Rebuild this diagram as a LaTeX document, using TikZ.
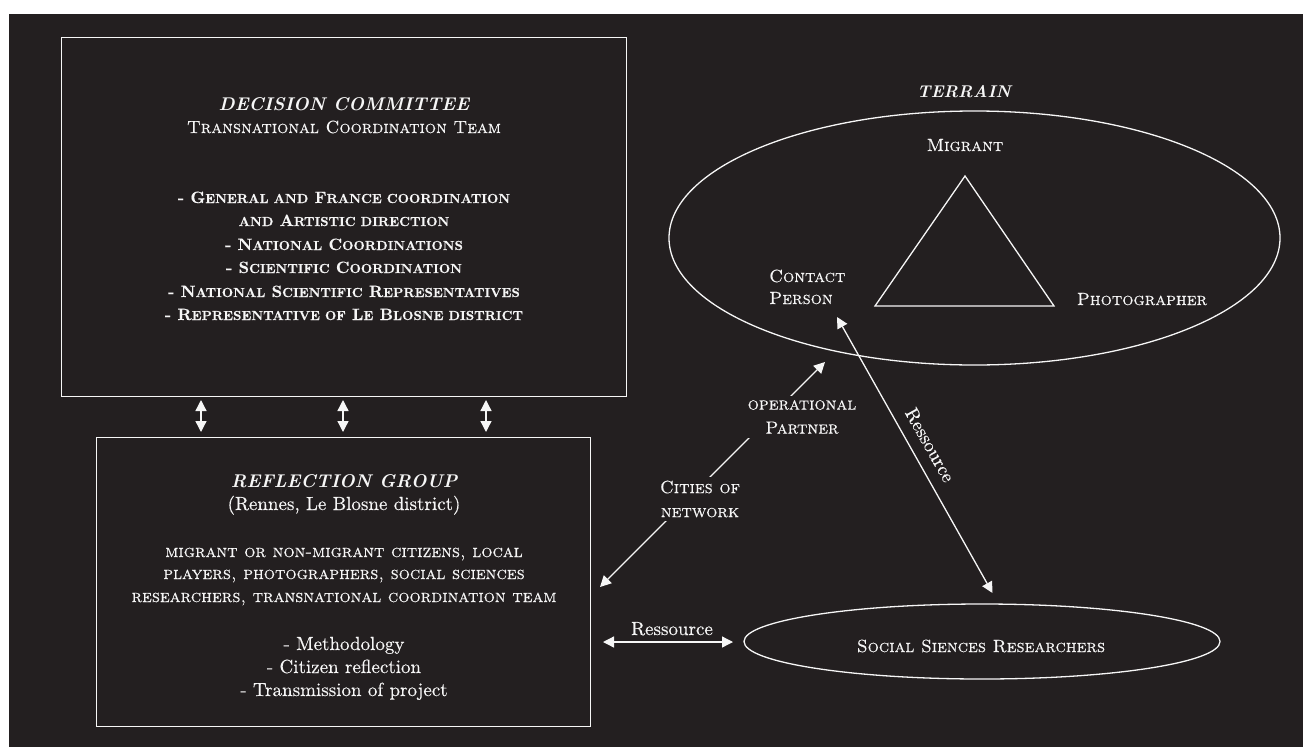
\documentclass[tikz,border=0pt]{standalone}
\usepackage{fontspec}
\newfontfamily\lmreg{lmroman10-regular.otf}[FakeBold=0.35]
\newfontfamily\lmsc{lmromancaps10-regular.otf}[FakeBold=0.35]
\newfontfamily\lmbold{lmroman10-bold.otf}[FakeBold=0.3]
\usetikzlibrary{shapes.geometric,arrows.meta}
\definecolor{bg}{HTML}{231F20}
\definecolor{fg}{HTML}{F6F6F6}
\newcommand\fsc[1]{{\fontsize{13.1}{16}\selectfont #1}}
\begin{document}
\begin{tikzpicture}[x=1pt,y=-1pt,
  line/.style={draw=fg, line width=1.3pt},
  >={Triangle[length=11pt,width=11pt]},
  txt/.style={text=fg, inner sep=0pt, anchor=base},
  ttl/.style={txt, font=\fontsize{18.4}{23}\selectfont\bfseries\itshape},
  sct/.style={txt, font=\fontsize{17.6}{23}\selectfont\lmsc},
  reg/.style={txt, font=\fontsize{19}{23}\selectfont\lmreg},
  bsc/.style={txt, font=\fontsize{16.4}{23}\selectfont\lmbold},
  lbl/.style={text=fg, fill=bg, inner sep=4pt, align=center, font=\fontsize{17.6}{24}\selectfont\lmsc},
  boxx/.style={line, inner sep=0pt, anchor=north west},
  ell/.style={line, ellipse, inner sep=0pt}]
\useasboundingbox (0,0) rectangle (1303,747);
\fill[white] (0,0) rectangle (1303,747);
\fill[bg] (9,14) rectangle (1303,747);

% boxes
\node[boxx, minimum width=565pt, minimum height=359pt] (dec) at (61,37) {};
\node[boxx, minimum width=494pt, minimum height=289pt] (ref) at (96,437) {};

% decision committee text
\node[ttl] (dct) at (344,110) {DECISION COMMITTEE};
\node[sct] (dcs) at (344,133) {Transnational Coordination Team};
\node[bsc] (dc1) at (344,203) {- G\fsc{ENERAL AND} F\fsc{RANCE COORDINATION}};
\node[bsc] (dc2) at (344,226) {\fsc{AND} A\fsc{RTISTIC DIRECTION}};
\node[bsc] (dc3) at (344,250) {- N\fsc{ATIONAL} C\fsc{OORDINATIONS}};
\node[bsc] (dc4) at (344,273) {- S\fsc{CIENTIFIC} C\fsc{OORDINATION}};
\node[bsc] (dc5) at (344,297) {- N\fsc{ATIONAL} S\fsc{CIENTIFIC} R\fsc{EPRESENTATIVES}};
\node[bsc] (dc6) at (344,320) {- R\fsc{EPRESENTATIVE OF} L\fsc{E} B\fsc{LOSNE DISTRICT}};

% reflection group text
\node[ttl] (rgh) at (344,487) {REFLECTION GROUP};
\node[reg] (rg0) at (344,510) {(Rennes, Le Blosne district)};
\node[sct] (rg1) at (344,557) {migrant or non-migrant citizens, local};
\node[sct] (rg2) at (344,579) {players, photographers, social sciences};
\node[sct] (rg3) at (344,602) {researchers, transnational coordination team};
\node[reg] (rg4) at (344,650) {- Methodology};
\node[reg] (rg5) at (344,673) {- Citizen reflection};
\node[reg] (rg6) at (344,696) {- Transmission of project};

% arrows between boxes
\coordinate (a1) at (201,400); \coordinate (b1) at (201,432);
\coordinate (a2) at (343,400); \coordinate (b2) at (343,432);
\coordinate (a3) at (486,400); \coordinate (b3) at (486,432);
\draw[line,<->] (a1) -- (b1);
\draw[line,<->] (a2) -- (b2);
\draw[line,<->] (a3) -- (b3);

% terrain
\node[ttl, font=\fontsize{17}{23}\selectfont\bfseries\itshape] (ttr) at (964,97) {TERRAIN};
\node[ell, minimum width=611pt, minimum height=254pt] (terrain) at (974.5,238) {};
\coordinate (t1) at (965,176);
\coordinate (t2) at (875,306);
\coordinate (t3) at (1054,306);
\draw[line, line join=miter] (t1) -- (t2) -- (t3) -- cycle;
\node[sct] (mig) at (965,151) {Migrant};
\node[sct, anchor=base west] (con) at (769,282) {Contact};
\node[sct, anchor=base west] (per) at (769,304) {Person};
\node[sct] (pho) at (1142,305) {Photographer};

% social sciences
\node[ell, minimum width=476pt, minimum height=75pt] (soc) at (982,641.5) {};
\node[sct] (soct) at (981,652) {Social Siences Researchers};

% connectors
\coordinate (cnA) at (600,587);
\coordinate (cnB) at (825,362);
\draw[line,<->] (cnA) -- (cnB);
\node[lbl] (cities) at (700,499) {Cities of\\network};
\node[lbl] (oper) at (802,417) {operational\\Partner};

\coordinate (rdA) at (837,317);
\coordinate (rdB) at (992.5,593);
\draw[line,<->] (rdA) -- (rdB);
\node[text=fg, inner sep=0pt, font=\fontsize{19}{23}\selectfont\lmreg, rotate=-60.6] (rdl) at (930,445) {Ressource};

\coordinate (rhA) at (603,642);
\coordinate (rhB) at (733,642);
\draw[line,<->] (rhA) -- (rhB);
\node[reg] (rhl) at (672,635) {Ressource};
\end{tikzpicture}
\end{document}
